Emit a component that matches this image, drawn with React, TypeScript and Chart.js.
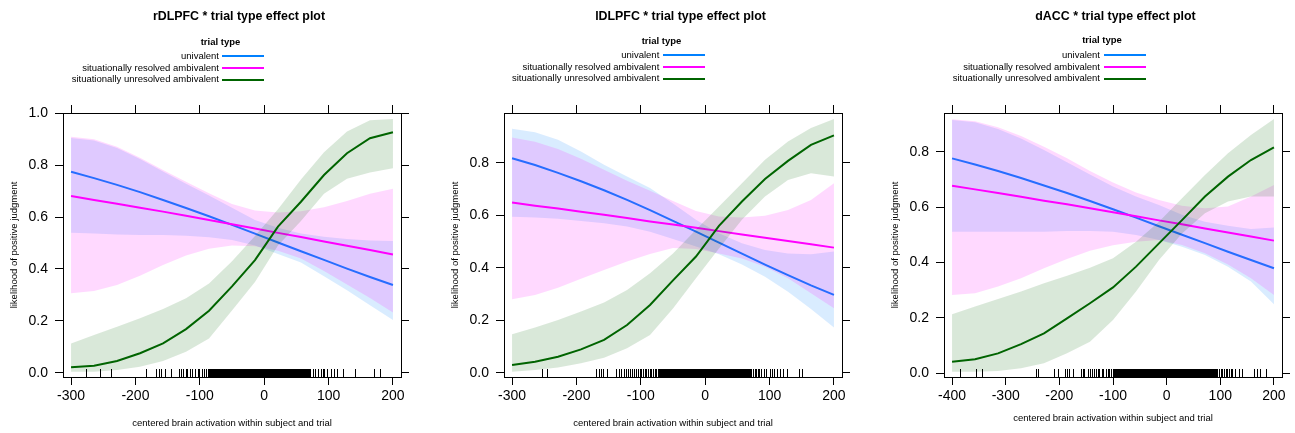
import React, { useEffect, useRef } from "react";
import { Chart, registerables } from "chart.js";

Chart.register(...registerables);

const FONT = "'Liberation Sans', Arial, Helvetica, sans-serif";
Chart.defaults.font.family = FONT;
Chart.defaults.color = "#000";

// ---------- shared labels ----------
const SERIES_NAMES = ["univalent", "situationally resolved ambivalent", "situationally unresolved ambivalent"];
const SERIES_COLORS = ["#0080ff", "#ff00ff", "#006400"];
const BAND_COLORS = ["rgba(0,128,255,0.15)", "rgba(255,0,255,0.15)", "rgba(0,100,0,0.15)"];
const LEGEND_TITLE = "trial type";
const X_TITLE = "centered brain activation within subject and trial";
const Y_TITLE = "likelihood of positive judgment";

// ---------- panel 1: rDLPFC ----------
const P1_TITLE = "rDLPFC * trial type effect plot";
const P1_XLIM = [-312.5, 212.5];
const P1_YLIM = [-0.0166, 1.0012];
const P1_XTICKS = [-300, -200, -100, 0, 100, 200];
const P1_YTICKS = [0, 0.2, 0.4, 0.6, 0.8, 1.0];
const P1_X = [-300, -264.3, -228.6, -192.9, -157.1, -121.4, -85.7, -50, -14.3, 21.4, 57.1, 92.9, 128.6, 164.3, 200];
const P1_UNI = [0.775, 0.75, 0.724, 0.696, 0.666, 0.635, 0.603, 0.57, 0.536, 0.502, 0.468, 0.435, 0.401, 0.369, 0.338];
const P1_UNI_LO = [0.54, 0.537, 0.533, 0.531, 0.531, 0.528, 0.522, 0.512, 0.49, 0.458, 0.425, 0.372, 0.318, 0.26, 0.203];
const P1_UNI_HI = [0.905, 0.895, 0.866, 0.824, 0.776, 0.728, 0.683, 0.636, 0.589, 0.559, 0.537, 0.524, 0.515, 0.51, 0.508];
const P1_RES = [0.681, 0.666, 0.651, 0.636, 0.621, 0.605, 0.589, 0.572, 0.556, 0.539, 0.523, 0.506, 0.489, 0.473, 0.456];
const P1_RES_LO = [0.306, 0.315, 0.338, 0.374, 0.415, 0.452, 0.478, 0.49, 0.487, 0.47, 0.44, 0.392, 0.34, 0.288, 0.232];
const P1_RES_HI = [0.91, 0.9, 0.871, 0.829, 0.781, 0.736, 0.692, 0.65, 0.625, 0.618, 0.622, 0.638, 0.662, 0.69, 0.709];
const P1_UNR = [0.021, 0.027, 0.045, 0.075, 0.113, 0.168, 0.239, 0.333, 0.434, 0.563, 0.659, 0.762, 0.846, 0.904, 0.927];
const P1_UNR_LO = [0.004, 0.004, 0.01, 0.023, 0.045, 0.081, 0.132, 0.24, 0.35, 0.49, 0.585, 0.69, 0.748, 0.772, 0.788];
const P1_UNR_HI = [0.113, 0.145, 0.177, 0.21, 0.246, 0.287, 0.344, 0.43, 0.527, 0.63, 0.745, 0.85, 0.93, 0.973, 0.978];
const P1_RUG = [
  -276.7, -253.7, -237.4, -182.1, -167, -163, -159.5, -153.8, -143.4, -132.2, -128.8, -125.7, -121, -119, -114.1,
  -110.7, -106.9, -102.8, -99.9, -95.7, -92.5, -89.5, -87,
  -85, -83.5, -82, -80.5, -79, -77.5, -76, -74.5, -73, -71.5, -70, -68.5, -67, -65.5, -64, -62.5, -61, -59.5, -58,
  -56.5, -55, -53.5, -52, -50.5, -49, -47.5, -46, -44.5, -43, -41.5, -40, -38.5, -37, -35.5, -34, -32.5, -31,
  -29.5, -28, -26.5, -25, -23.5, -22, -20.5, -19, -17.5, -16, -14.5, -13, -11.5, -10, -8.5, -7, -5.5, -4, -2.5,
  -1, 0.5, 2, 3.5, 5, 6.5, 8, 9.5, 11, 12.5, 14, 15.5, 17, 18.5, 20, 21.5, 23, 24.5, 26, 27.5, 29, 30.5, 32, 33.5,
  35, 36.5, 38, 39.5, 41, 42.5, 44, 45.5, 47, 48.5, 50, 51.5, 53, 54.5, 56, 57.5, 59, 60.5, 62, 63.5, 65, 66.5,
  68, 69.5, 71, 72.5,
  75.9, 80, 83.6, 88.8, 91.4, 94, 97.6, 104.4, 109.5, 114.6, 123.5, 142.1, 171.5, 180.4,
];

// ---------- panel 2: lDLPFC ----------
const P2_TITLE = "lDLPFC * trial type effect plot";
const P2_XLIM = [-312.5, 212.5];
const P2_YLIM = [-0.0164, 0.9905];
const P2_XTICKS = [-300, -200, -100, 0, 100, 200];
const P2_YTICKS = [0, 0.2, 0.4, 0.6, 0.8];
const P2_X = [-300, -264.3, -228.6, -192.9, -157.1, -121.4, -85.7, -50, -14.3, 21.4, 57.1, 92.9, 128.6, 164.3, 200];
const P2_UNI = [0.818, 0.792, 0.762, 0.73, 0.696, 0.659, 0.62, 0.579, 0.538, 0.496, 0.454, 0.412, 0.372, 0.333, 0.297];
const P2_UNI_LO = [0.595, 0.592, 0.587, 0.579, 0.57, 0.558, 0.538, 0.51, 0.481, 0.452, 0.413, 0.366, 0.309, 0.243, 0.172];
const P2_UNI_HI = [0.93, 0.917, 0.888, 0.844, 0.793, 0.748, 0.704, 0.645, 0.583, 0.532, 0.494, 0.468, 0.455, 0.452, 0.462];
const P2_RES = [0.649, 0.637, 0.626, 0.614, 0.602, 0.59, 0.577, 0.565, 0.553, 0.54, 0.527, 0.515, 0.502, 0.49, 0.477];
const P2_RES_LO = [0.28, 0.296, 0.324, 0.358, 0.392, 0.424, 0.453, 0.476, 0.472, 0.455, 0.436, 0.404, 0.36, 0.303, 0.246];
const P2_RES_HI = [0.897, 0.881, 0.853, 0.816, 0.774, 0.732, 0.694, 0.655, 0.617, 0.596, 0.592, 0.599, 0.621, 0.659, 0.723];
const P2_UNR = [0.029, 0.042, 0.061, 0.089, 0.125, 0.182, 0.258, 0.352, 0.443, 0.56, 0.653, 0.739, 0.808, 0.869, 0.905];
const P2_UNR_LO = [0.004, 0.01, 0.02, 0.036, 0.057, 0.093, 0.144, 0.245, 0.36, 0.474, 0.583, 0.672, 0.735, 0.761, 0.748];
const P2_UNR_HI = [0.147, 0.172, 0.201, 0.233, 0.268, 0.315, 0.379, 0.455, 0.545, 0.634, 0.723, 0.812, 0.882, 0.933, 0.968];
const P2_RUG = [
  -252.2, -245.7, -168.2, -164.6, -161.5, -157.9, -151.7, -137.1, -133.1, -129.4, -125.8, -122.7, -119.1, -115.4,
  -112.3, -109.8, -106.1, -103.6, -101, -98.4, -95.9, -93.2, -90.6, -88.1, -85.5, -82.8, -80.4, -77.7, -75.1,
  -73, -71.5, -70, -68.5, -67, -65.5, -64, -62.5, -61, -59.5, -58, -56.5, -55, -53.5, -52, -50.5, -49, -47.5, -46,
  -44.5, -43, -41.5, -40, -38.5, -37, -35.5, -34, -32.5, -31, -29.5, -28, -26.5, -25, -23.5, -22, -20.5, -19,
  -17.5, -16, -14.5, -13, -11.5, -10, -8.5, -7, -5.5, -4, -2.5, -1, 0.5, 2, 3.5, 5, 6.5, 8, 9.5, 11, 12.5, 14,
  15.5, 17, 18.5, 20, 21.5, 23, 24.5, 26, 27.5, 29, 30.5, 32, 33.5, 35, 36.5, 38, 39.5, 41, 42.5, 44, 45.5, 47,
  48.5, 50, 51.5, 53, 54.5, 56, 57.5, 59, 60.5, 62, 63.5, 65, 66.5, 68, 69.5, 71, 72.5,
  74.8, 77.4, 80, 82.6, 85.1, 87.8, 91.4, 95.5, 100.7, 104.8, 108.4, 112, 116.2, 122.4, 127.5, 146.1, 151.4,
];

// ---------- panel 3: dACC ----------
const P3_TITLE = "dACC * trial type effect plot";
const P3_XLIM = [-415, 215];
const P3_YLIM = [-0.0134, 0.9397];
const P3_XTICKS = [-400, -300, -200, -100, 0, 100, 200];
const P3_YTICKS = [0, 0.2, 0.4, 0.6, 0.8];
const P3_X = [-400, -357.1, -314.3, -271.4, -228.6, -185.7, -142.9, -100, -57.1, -14.3, 28.6, 71.4, 114.3, 157.1, 200];
const P3_UNI = [0.776, 0.754, 0.73, 0.705, 0.678, 0.651, 0.622, 0.592, 0.562, 0.531, 0.5, 0.47, 0.439, 0.409, 0.379];
const P3_UNI_LO = [0.511, 0.511, 0.511, 0.511, 0.511, 0.514, 0.514, 0.511, 0.499, 0.481, 0.457, 0.427, 0.385, 0.331, 0.249];
const P3_UNI_HI = [0.914, 0.906, 0.882, 0.848, 0.806, 0.762, 0.718, 0.674, 0.638, 0.608, 0.572, 0.547, 0.533, 0.521, 0.526];
const P3_RES = [0.677, 0.664, 0.651, 0.637, 0.623, 0.61, 0.596, 0.581, 0.567, 0.552, 0.538, 0.523, 0.508, 0.494, 0.479];
const P3_RES_LO = [0.283, 0.289, 0.313, 0.343, 0.379, 0.413, 0.442, 0.462, 0.475, 0.481, 0.463, 0.433, 0.393, 0.343, 0.283];
const P3_RES_HI = [0.917, 0.91, 0.888, 0.857, 0.818, 0.776, 0.73, 0.689, 0.653, 0.626, 0.605, 0.596, 0.602, 0.638, 0.68];
const P3_UNR = [0.042, 0.051, 0.072, 0.105, 0.144, 0.198, 0.253, 0.31, 0.385, 0.469, 0.553, 0.638, 0.71, 0.77, 0.816];
const P3_UNR_LO = [0.006, 0.006, 0.008, 0.018, 0.036, 0.072, 0.114, 0.192, 0.295, 0.409, 0.505, 0.578, 0.62, 0.638, 0.638];
const P3_UNR_HI = [0.213, 0.241, 0.268, 0.295, 0.325, 0.352, 0.381, 0.415, 0.475, 0.547, 0.632, 0.716, 0.794, 0.86, 0.918];
const P3_RUG = [
  -384.4, -354.5, -344.1, -242.7, -238.5, -208.6, -201, -188.1, -185, -180.7, -174.5, -158.9, -155.9, -152.7,
  -144.9, -141.6, -137.3, -134.1, -131, -127.9, -124.8, -120.2, -116.8, -112.3, -109.3, -106.2, -103, -100,
  -97, -95.5, -94, -92.5, -91, -89.5, -88, -86.5, -85, -83.5, -82, -80.5, -79, -77.5, -76, -74.5, -73, -71.5,
  -70, -68.5, -67, -65.5, -64, -62.5, -61, -59.5, -58, -56.5, -55, -53.5, -52, -50.5, -49, -47.5, -46, -44.5,
  -43, -41.5, -40, -38.5, -37, -35.5, -34, -32.5, -31, -29.5, -28, -26.5, -25, -23.5, -22, -20.5, -19, -17.5,
  -16, -14.5, -13, -11.5, -10, -8.5, -7, -5.5, -4, -2.5, -1, 0.5, 2, 3.5, 5, 6.5, 8, 9.5, 11, 12.5, 14, 15.5, 17,
  18.5, 20, 21.5, 23, 24.5, 26, 27.5, 29, 30.5, 32, 33.5, 35, 36.5, 38, 39.5, 41, 42.5, 44, 45.5, 47, 48.5, 50,
  51.5, 53, 54.5, 56, 57.5, 59, 60.5, 62, 63.5, 65, 66.5, 68, 69.5, 71, 72.5, 74, 75.5, 77, 78.5, 80, 81.5, 83,
  84.5, 86, 87.5, 89, 90.5, 92,
  95.6, 98.8, 101.9, 105, 108.2, 111.3, 114.3, 117.5, 120.6, 123.6, 128.6, 136.1, 142.2, 164, 169, 174.6, 185.8,
];

// ---------- panel table built from the arrays ----------
const PANELS = [
  {
    title: P1_TITLE, xlim: P1_XLIM, ylim: P1_YLIM, xTicks: P1_XTICKS, yTicks: P1_YTICKS, x: P1_X, rug: P1_RUG,
    series: [[P1_UNI, P1_UNI_LO, P1_UNI_HI], [P1_RES, P1_RES_LO, P1_RES_HI], [P1_UNR, P1_UNR_LO, P1_UNR_HI]],
  },
  {
    title: P2_TITLE, xlim: P2_XLIM, ylim: P2_YLIM, xTicks: P2_XTICKS, yTicks: P2_YTICKS, x: P2_X, rug: P2_RUG,
    series: [[P2_UNI, P2_UNI_LO, P2_UNI_HI], [P2_RES, P2_RES_LO, P2_RES_HI], [P2_UNR, P2_UNR_LO, P2_UNR_HI]],
  },
  {
    title: P3_TITLE, xlim: P3_XLIM, ylim: P3_YLIM, xTicks: P3_XTICKS, yTicks: P3_YTICKS, x: P3_X, rug: P3_RUG,
    series: [[P3_UNI, P3_UNI_LO, P3_UNI_HI], [P3_RES, P3_RES_LO, P3_RES_HI], [P3_UNR, P3_UNR_LO, P3_UNR_HI]],
  },
];

// ---------- layout (page pixels) ----------
const H = 433;
const LAYOUT = [
  { left: 0, w: 432, padL: 9, padR: 23, bottomH: 52, titleCx: 239, titleCy: 16, headCx: 220.5, headCy: 42, textRight: 219, lineStart: 222, rows: [56, 68, 79.5] },
  { left: 432, w: 431, padL: 18, padR: 13, bottomH: 52, titleCx: 680.5, titleCy: 15.7, headCx: 661.5, headCy: 41.3, textRight: 659.3, lineStart: 662.7, rows: [55, 67, 78.7] },
  { left: 863, w: 432, padL: 27, padR: 5, bottomH: 47, titleCx: 1115.5, titleCy: 15.7, headCx: 1102, headCy: 40.7, textRight: 1100, lineStart: 1104, rows: [55, 67, 78.7] },
];

const rugPlugin = {
  id: "rug",
  afterDatasetsDraw(chart: any, _args: any, opts: any) {
    const vals: number[] = opts.values || [];
    const xs = chart.scales.x;
    const a = chart.chartArea;
    const ctx = chart.ctx;
    const yb = Math.round(a.bottom);
    ctx.save();
    ctx.strokeStyle = "#000";
    ctx.lineWidth = 1;
    ctx.beginPath();
    for (const v of vals) {
      const px = Math.round(xs.getPixelForValue(v) - 0.5) + 0.5;
      ctx.moveTo(px, yb);
      ctx.lineTo(px, yb - opts.length);
    }
    ctx.stroke();
    ctx.restore();
  },
};

function buildConfig(p: any, lay: any): any {
  const datasets: any[] = [];
  p.series.forEach((s: number[][], si: number) => {
    const [mid, lo, hi] = s;
    const bandOrder = 5 - 2 * si;
    const lineOrder = 4 - 2 * si;
    const pts = (arr: number[]) => p.x.map((x: number, i: number) => ({ x, y: arr[i] }));
    datasets.push({
      label: SERIES_NAMES[si] + " upper",
      data: pts(hi),
      fill: "+1",
      backgroundColor: BAND_COLORS[si],
      borderColor: "rgba(0,0,0,0)",
      borderWidth: 0,
      pointRadius: 0,
      tension: 0,
      order: bandOrder,
    });
    datasets.push({
      label: SERIES_NAMES[si] + " lower",
      data: pts(lo),
      fill: false,
      borderColor: "rgba(0,0,0,0)",
      borderWidth: 0,
      pointRadius: 0,
      tension: 0,
      order: bandOrder,
    });
    datasets.push({
      label: SERIES_NAMES[si],
      data: pts(mid),
      fill: false,
      borderColor: SERIES_COLORS[si],
      borderWidth: 2,
      pointRadius: 0,
      tension: 0,
      order: lineOrder,
    });
  });

  const gridOpts = { display: true, drawOnChartArea: false, drawTicks: true, tickLength: 8, color: "#000", tickColor: "#000", tickWidth: 1 };
  const borderOpts = { display: true, color: "#000", width: 1 };
  const setX = (s: any) => { s.ticks = p.xTicks.map((v: number) => ({ value: v })); };
  const setY = (s: any) => { s.ticks = p.yTicks.map((v: number) => ({ value: v })); };

  return {
    type: "line",
    data: { datasets },
    plugins: [rugPlugin],
    options: {
      animation: false,
      responsive: false,
      maintainAspectRatio: false,
      events: [],
      layout: { padding: { left: lay.padL, right: lay.padR, top: 105, bottom: H - 377 - lay.bottomH } },
      plugins: {
        legend: { display: false },
        tooltip: { enabled: false },
        title: { display: false },
        rug: { values: p.rug, length: 8 },
      },
      scales: {
        x: {
          type: "linear", position: "bottom", min: p.xlim[0], max: p.xlim[1],
          afterBuildTicks: setX,
          afterFit: (s: any) => { s.height = lay.bottomH; },
          ticks: { autoSkip: false, maxRotation: 0, padding: 3, color: "#000", font: { size: 14, family: FONT }, callback: (v: any) => String(v) },
          grid: gridOpts, border: borderOpts,
          title: { display: true, text: X_TITLE, color: "#000", padding: 0, font: { size: 9.5, family: FONT } },
        },
        y: {
          type: "linear", position: "left", min: p.ylim[0], max: p.ylim[1],
          afterBuildTicks: setY,
          afterFit: (s: any) => { s.width = 54; },
          ticks: { autoSkip: false, padding: 7, color: "#000", font: { size: 14, family: FONT }, callback: (v: any) => Number(v).toFixed(1) },
          grid: gridOpts, border: borderOpts,
          title: { display: true, text: Y_TITLE, color: "#000", padding: 0, font: { size: 9.5, family: FONT } },
        },
        x2: {
          type: "linear", axis: "x", position: "top", min: p.xlim[0], max: p.xlim[1],
          afterBuildTicks: setX,
          afterFit: (s: any) => { s.height = 8; },
          ticks: { display: false },
          grid: gridOpts, border: borderOpts,
        },
        y2: {
          type: "linear", axis: "y", position: "right", min: p.ylim[0], max: p.ylim[1],
          afterBuildTicks: setY,
          afterFit: (s: any) => { s.width = 8; },
          ticks: { display: false },
          grid: gridOpts, border: borderOpts,
        },
      },
    },
  };
}

function Panel({ p, lay }: { p: any; lay: any }) {
  const ref = useRef<HTMLCanvasElement>(null);
  useEffect(() => {
    if (!ref.current) return;
    const chart = new Chart(ref.current, buildConfig(p, lay));
    return () => chart.destroy();
  }, [p, lay]);
  return (
    <canvas
      ref={ref}
      width={lay.w}
      height={H}
      style={{ position: "absolute", left: lay.left, top: 0, width: lay.w, height: H }}
    />
  );
}

function Header({ p, lay }: { p: any; lay: any }) {
  const legendFont = 9.5;
  return (
    <>
      <div
        style={{
          position: "absolute", left: lay.titleCx - 150, width: 300, top: lay.titleCy - 8, lineHeight: "16px",
          textAlign: "center", fontWeight: "bold", fontSize: 12.4, color: "#000", whiteSpace: "nowrap",
        }}
      >
        {p.title}
      </div>
      <div
        style={{
          position: "absolute", left: lay.headCx - 60, width: 120, top: lay.headCy - 6.4, lineHeight: "12px",
          textAlign: "center", fontWeight: "bold", fontSize: legendFont, color: "#000", whiteSpace: "nowrap",
        }}
      >
        {LEGEND_TITLE}
      </div>
      {SERIES_NAMES.map((name, i) => (
        <React.Fragment key={name}>
          <div
            style={{
              position: "absolute", left: lay.textRight - 300, width: 300, top: lay.rows[i] - 6.4, lineHeight: "12px",
              textAlign: "right", fontSize: legendFont, color: "#000", whiteSpace: "nowrap",
            }}
          >
            {name}
          </div>
          <div
            style={{
              position: "absolute", left: lay.lineStart, width: 42, top: lay.rows[i] - 1, height: 2,
              background: SERIES_COLORS[i],
            }}
          />
        </React.Fragment>
      ))}
    </>
  );
}

export default function App() {
  return (
    <div
      style={{
        position: "absolute", left: 0, top: 0, width: 1295, height: H, background: "#fff",
        overflow: "hidden", fontFamily: FONT,
      }}
    >
      {PANELS.map((p, i) => (
        <React.Fragment key={i}>
          <Panel p={p} lay={LAYOUT[i]} />
          <Header p={p} lay={LAYOUT[i]} />
        </React.Fragment>
      ))}
    </div>
  );
}
